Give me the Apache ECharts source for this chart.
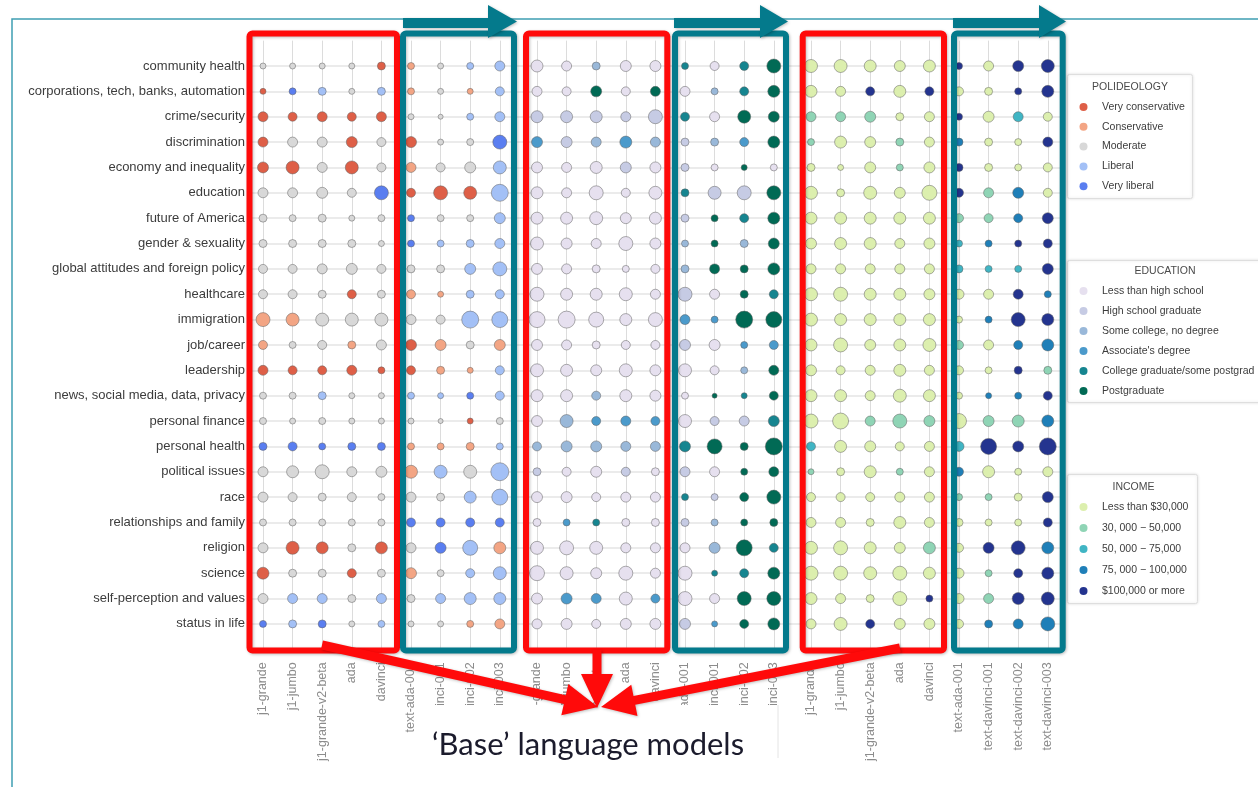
<!DOCTYPE html>
<html>
<head>
<meta charset="utf-8">
<title>Opinion representativeness by topic</title>
<script src="https://cdn.jsdelivr.net/npm/echarts@6/dist/echarts.min.js"></script>
<style>
  html, body { margin: 0; padding: 0; background: #ffffff; }
  #chart { width: 1258px; height: 787px; }
</style>
</head>
<body>
<div id="chart"></div>
<script>
// Topics (rows, top to bottom) and models (columns inside each facet)
const topics = [
  'community health', 'corporations, tech, banks, automation', 'crime/security',
  'discrimination', 'economy and inequality', 'education', 'future of America',
  'gender & sexuality', 'global attitudes and foreign policy', 'healthcare',
  'immigration', 'job/career', 'leadership', 'news, social media, data, privacy',
  'personal finance', 'personal health', 'political issues', 'race',
  'relationships and family', 'religion', 'science', 'self-perception and values',
  'status in life'
];
const models = [
  'j1-grande', 'j1-jumbo', 'j1-grande-v2-beta', 'ada', 'davinci',
  'text-ada-001', 'text-davinci-001', 'text-davinci-002', 'text-davinci-003'
];

// POLIDEOLOGY facet
const ideologyNames = ['Very conservative', 'Conservative', 'Moderate', 'Liberal', 'Very liberal'];
const ideologyColors = ['#de5f47', '#f3a584', '#d8d8d8', '#a3c0f6', '#5a7ef0'];
const ideologyGroup = [
  [2,2,2,2,0, 1,2,3,3], [0,4,3,2,3, 1,2,1,3], [0,0,0,0,0, 2,2,3,3], [0,2,2,0,2, 0,2,2,4],
  [0,0,2,0,2, 1,2,2,3], [2,2,2,2,4, 0,0,0,3], [2,2,2,2,2, 4,2,2,3], [2,2,2,2,2, 4,3,3,3],
  [2,2,2,2,2, 2,2,3,3], [2,2,2,0,2, 1,1,3,3], [1,1,2,2,2, 2,2,3,3], [1,2,2,1,2, 0,1,2,1],
  [0,0,0,0,0, 0,1,1,3], [2,2,3,2,2, 3,3,4,3], [2,2,2,2,2, 2,2,0,2], [4,4,4,4,4, 1,1,1,3],
  [2,2,2,2,2, 1,3,2,3], [2,2,2,2,2, 2,2,3,3], [2,2,2,2,2, 4,4,4,4], [2,0,0,2,0, 2,4,3,1],
  [0,2,2,0,2, 1,2,3,3], [2,3,3,2,3, 2,3,3,3], [4,3,4,2,3, 2,2,1,1]
];
const ideologyWeight = [
  [6,6,6,6,8, 7,6,7,10], [6,7,8,6,8, 7,6,6,9], [10,9,10,9,10, 6,5,7,10], [10,10,10,11,9, 11,6,7,14],
  [11,13,10,13,9, 10,9,11,13], [10,10,11,9,14, 9,14,13,17], [8,7,8,6,7, 7,7,7,11], [8,8,8,8,6, 7,7,8,10],
  [9,9,10,11,9, 8,8,11,14], [9,9,8,9,8, 9,6,8,9], [14,13,13,13,13, 10,9,17,16], [9,7,9,8,10, 11,11,8,11],
  [10,9,9,10,7, 9,8,6,9], [7,7,8,6,6, 7,6,7,9], [7,6,7,6,6, 6,5,6,7], [8,9,7,8,8, 7,7,8,7],
  [10,12,14,10,11, 13,13,13,18], [10,9,8,9,7, 10,8,12,16], [7,7,7,7,7, 9,9,9,9], [10,13,12,8,12, 10,11,15,12],
  [12,8,8,9,8, 11,7,9,13], [10,10,10,8,10, 8,10,12,12], [7,8,8,6,7, 6,6,7,10]
];

// EDUCATION facet
const educationNames = ['Less than high school', 'High school graduate', 'Some college, no degree',
  "Associate's degree", 'College graduate/some postgrad', 'Postgraduate'];
const educationColors = ['#e6e0ef', '#c6cbe4', '#99b8d9', '#4b9acb', '#168590', '#016a55'];
const educationGroup = [
  [0,0,2,0,0, 4,0,4,5], [0,0,5,0,5, 0,2,4,5], [1,1,1,1,1, 4,0,5,5], [3,1,2,3,2, 1,2,3,5],
  [0,0,0,1,0, 1,0,5,0], [0,0,0,0,0, 4,1,1,5], [0,0,0,0,0, 1,5,4,5], [0,0,0,0,0, 2,5,2,5],
  [0,0,0,0,0, 2,5,5,5], [0,0,0,0,0, 1,0,5,4], [0,0,0,0,0, 3,3,5,5], [0,0,0,0,0, 1,0,3,3],
  [0,0,0,0,0, 0,0,2,5], [0,0,2,0,0, 0,5,4,5], [0,2,3,3,3, 0,1,1,4], [2,2,2,2,2, 4,5,5,5],
  [1,0,0,1,0, 1,0,5,5], [0,0,0,0,0, 4,1,5,5], [0,3,4,0,0, 1,2,5,5], [0,0,0,0,0, 0,2,5,4],
  [0,0,0,0,0, 0,4,4,5], [0,3,3,0,3, 0,0,5,5], [0,0,0,0,0, 1,3,5,5]
];
const educationWeight = [
  [12,10,8,11,11, 7,9,9,14], [10,9,11,9,10, 10,7,9,12], [12,12,12,10,14, 9,10,13,11], [11,11,10,12,10, 8,8,9,12],
  [11,10,12,11,11, 8,7,6,7], [12,10,14,9,13, 8,13,14,14], [12,12,13,11,12, 8,7,9,12], [13,11,10,14,11, 7,7,8,11],
  [11,10,8,7,9, 8,10,8,12], [14,12,12,13,10, 14,10,8,9], [16,17,15,12,14, 10,7,17,16], [11,10,8,9,9, 11,11,7,9],
  [13,12,11,13,11, 13,9,7,10], [12,12,9,12,11, 7,5,6,9], [11,13,9,10,9, 13,9,10,11], [9,11,11,10,10, 11,15,8,17],
  [8,9,11,9,8, 10,10,7,10], [11,11,9,10,10, 7,7,9,14], [8,7,7,8,8, 8,7,7,8], [13,14,13,10,10, 10,11,16,9],
  [15,13,11,14,10, 14,6,9,12], [11,11,10,13,9, 14,10,14,14], [10,11,9,11,11, 11,6,9,12]
];

// INCOME facet
const incomeNames = ['Less than $30,000', '30, 000 \u2212 50,000', '50, 000 \u2212 75,000',
  '75, 000 \u2212 100,000', '$100,000 or more'];
const incomeColors = ['#dcefae', '#8fd4b5', '#40b5c4', '#1f7fb8', '#24348f'];
const incomeGroup = [
  [0,0,0,0,0, 4,0,4,4], [0,0,4,0,4, 0,0,4,4], [1,1,1,0,0, 4,0,2,0], [1,0,0,1,0, 3,0,0,4],
  [0,0,0,1,0, 4,0,0,0], [0,0,0,0,0, 4,1,3,0], [0,0,0,0,0, 1,1,3,4], [0,0,0,0,0, 2,3,4,4],
  [0,0,0,0,0, 2,2,2,4], [0,0,0,0,0, 0,0,4,3], [0,0,0,0,0, 0,3,4,4], [0,0,0,0,0, 1,0,3,3],
  [0,0,0,0,0, 0,0,4,1], [0,0,0,0,0, 0,3,3,4], [0,0,1,1,1, 0,1,1,3], [2,0,0,0,0, 2,4,4,4],
  [1,0,0,1,0, 3,0,0,0], [0,0,0,0,0, 1,1,0,4], [0,0,0,0,0, 0,0,0,4], [0,0,0,0,1, 0,4,4,3],
  [0,0,0,0,0, 0,1,4,4], [0,0,0,0,4, 0,1,4,4], [0,0,4,0,0, 0,3,3,3]
];
const incomeWeight = [
  [13,13,12,11,12, 7,10,11,13], [12,10,9,12,9, 9,8,7,12], [10,10,11,8,10, 7,11,10,9], [7,12,11,8,10, 8,8,7,10],
  [8,6,11,7,11, 8,8,7,9], [13,8,13,11,15, 9,10,11,9], [12,12,12,12,12, 9,9,9,11], [11,12,12,10,11, 7,7,7,9],
  [10,10,10,10,10, 8,7,7,11], [13,14,12,12,11, 10,10,10,7], [13,12,12,12,12, 7,7,14,12], [12,14,11,12,13, 9,10,9,12],
  [11,9,10,12,10, 9,7,8,8], [12,12,10,13,12, 7,6,7,9], [14,16,10,14,11, 15,11,12,12], [9,12,11,9,10, 10,16,11,17],
  [6,8,12,7,10, 9,12,7,10], [9,9,9,10,10, 7,7,8,11], [10,10,8,12,10, 8,7,7,9], [13,14,12,11,12, 9,11,14,12],
  [14,14,13,14,12, 10,7,9,12], [12,10,8,14,7, 10,10,12,13], [10,13,9,11,11, 9,8,10,14]
];

const facets = [
  { title: 'POLIDEOLOGY', names: ideologyNames, colors: ideologyColors, group: ideologyGroup, weight: ideologyWeight },
  { title: 'EDUCATION', names: educationNames, colors: educationColors, group: educationGroup, weight: educationWeight },
  { title: 'INCOME', names: incomeNames, colors: incomeColors, group: incomeGroup, weight: incomeWeight }
];

// ---- layout ----
const rowStep = 25.36;
const plotTop = 66 - rowStep;                 // y-axis spans -1 .. 23
const plotHeight = rowStep * 24;
const colStep = 29.6;
const facetLeft = [263, 537, 811];
const facetWidth = colStep * (models.length - 1);
const LABEL_FONT = '"Liberation Sans", Arial, sans-serif';

const grids = [{ left: 250, top: plotTop, width: 813, height: plotHeight }];
const xAxes = [{ gridIndex: 0, type: 'value', min: 0, max: 1, show: false }];
const yAxes = [{
  gridIndex: 0, type: 'value', min: -1, max: 23, interval: 1, inverse: true,
  axisLine: { show: false }, axisTick: { show: false },
  axisLabel: {
    margin: 5, fontSize: 13, color: '#3c3c3c', fontFamily: LABEL_FONT,
    formatter: v => topics[v] || ''
  },
  splitLine: { show: true, showMinLine: false, showMaxLine: false, lineStyle: { color: '#ebebeb', width: 2 } }
}];
const series = [];

facets.forEach((f, i) => {
  grids.push({ left: facetLeft[i], top: plotTop, width: facetWidth, height: plotHeight });
  xAxes.push({
    gridIndex: i + 1, type: 'category', data: models, boundaryGap: false,
    axisLine: { show: false }, axisTick: { show: false },
    axisLabel: { interval: 0, rotate: 90, margin: 13, fontSize: 12.5, color: '#8c8c8c', fontFamily: LABEL_FONT },
    splitLine: { show: true, lineStyle: { color: '#dcdcdc', width: 1 } }
  });
  yAxes.push({ gridIndex: i + 1, type: 'value', min: -1, max: 23, inverse: true, show: false });
  const data = [];
  f.group.forEach((row, r) => {
    row.forEach((g, c) => {
      data.push({
        value: [c, r, f.weight[r][c], g],
        itemStyle: { color: f.colors[g] }
      });
    });
  });
  series.push({
    type: 'scatter', xAxisIndex: i + 1, yAxisIndex: i + 1,
    symbol: 'circle', symbolSize: v => v[2],
    itemStyle: { borderColor: 'rgba(95,95,95,0.5)', borderWidth: 1, opacity: 1 },
    emphasis: { disabled: true },
    data
  });
});

// ---- annotations ----
const RED = '#ff0a0a';
const TEAL = '#047a8c';
const boxTop = 33.5, boxBottom = 650.5;
const redBoxes = [[249.5, 397], [526, 667.3], [802.7, 944]];
const tealBoxes = [[403, 514], [675, 786], [954, 1062.7]];
const tealArrows = [[403, 488, 517], [674, 760, 788], [953, 1039, 1066]];

function arrowPolygon(x0, y0, x1, y1, shaftW, headL, headW) {
  const dx = x1 - x0, dy = y1 - y0, len = Math.hypot(dx, dy);
  const ux = dx / len, uy = dy / len, nx = -uy, ny = ux;
  const bx = x1 - ux * headL, by = y1 - uy * headL;
  const s = shaftW / 2;
  return [
    [x0 + nx * s, y0 + ny * s], [bx + nx * s, by + ny * s], [bx + nx * headW, by + ny * headW],
    [x1, y1],
    [bx - nx * headW, by - ny * headW], [bx - nx * s, by - ny * s], [x0 - nx * s, y0 - ny * s]
  ];
}

const elements = [];
// outer frame
elements.push({ type: 'polyline', z: 50, shape: { points: [[12, 787], [12, 19], [1258, 19]] },
  style: { stroke: '#3f9fb2', lineWidth: 1.5, fill: null } });

redBoxes.forEach(([a, b]) => elements.push({
  type: 'rect', z: 100,
  shape: { x: a, y: boxTop, width: b - a, height: boxBottom - boxTop, r: 3 },
  style: { fill: null, stroke: RED, lineWidth: 6, shadowBlur: 3, shadowColor: 'rgba(0,0,0,0.25)', shadowOffsetX: 1, shadowOffsetY: 1 }
}));
tealBoxes.forEach(([a, b]) => elements.push({
  type: 'rect', z: 100,
  shape: { x: a, y: boxTop, width: b - a, height: boxBottom - boxTop, r: 3 },
  style: { fill: null, stroke: TEAL, lineWidth: 6, shadowBlur: 3, shadowColor: 'rgba(0,0,0,0.25)', shadowOffsetX: 1, shadowOffsetY: 1 }
}));
tealArrows.forEach(([x0, xb, xt]) => elements.push({
  type: 'polygon', z: 101,
  shape: { points: [[x0, 18], [xb, 18], [xb, 5], [xt, 21.5], [xb, 38], [xb, 28], [x0, 28]] },
  style: { fill: TEAL, shadowBlur: 3, shadowColor: 'rgba(0,0,0,0.25)', shadowOffsetX: 1, shadowOffsetY: 1 }
}));

// caption panel (white) sitting over the lower part of the model labels
elements.push({ type: 'rect', z: 101, shape: { x: 426, y: 705, width: 352, height: 62 },
  style: { fill: '#ffffff' } });
elements.push({ type: 'line', z: 101, shape: { x1: 778, y1: 705, x2: 778, y2: 758 },
  style: { stroke: '#e4e4e4', lineWidth: 1 } });

// red arrows converging on the caption
[[322, 645, 598, 707], [597, 650, 597, 708], [900, 648, 601, 707]].forEach(([x0, y0, x1, y1]) => elements.push({
  type: 'polygon', z: 102,
  shape: { points: arrowPolygon(x0, y0, x1, y1, 9, 34, 16) },
  style: { fill: RED, shadowBlur: 3, shadowColor: 'rgba(0,0,0,0.25)', shadowOffsetX: 1, shadowOffsetY: 1 }
}));
elements.push({
  type: 'text', z: 103, x: 588, y: 745,
  style: { text: '\u2018Base\u2019 language models', font: '31px Lato, "Open Sans", sans-serif',
    fill: '#1b1b2c', align: 'center', verticalAlign: 'middle' }
});

// legend panels
const legendBoxes = [
  { x: 1067.5, y: 74.5, w: 125, h: 124, titleX: 1130, titleY: 87, firstY: 107, step: 19.8 },
  { x: 1067.5, y: 260.5, w: 220, h: 142, titleX: 1165, titleY: 271, firstY: 291, step: 20 },
  { x: 1067.5, y: 474.5, w: 130, h: 129, titleX: 1133.5, titleY: 487, firstY: 507, step: 21 }
];
facets.forEach((f, i) => {
  const L = legendBoxes[i];
  elements.push({ type: 'rect', z: 90, shape: { x: L.x, y: L.y, width: L.w, height: L.h, r: 2 },
    style: { fill: '#ffffff', stroke: '#dedede', lineWidth: 1, shadowBlur: 3, shadowColor: 'rgba(0,0,0,0.12)' } });
  elements.push({ type: 'text', z: 91, x: L.titleX, y: L.titleY,
    style: { text: f.title, font: '10.5px "Liberation Sans", Arial, sans-serif', fill: '#4a4a4a', align: 'center', verticalAlign: 'middle' } });
  f.names.forEach((name, k) => {
    const cy = L.firstY + k * L.step;
    elements.push({ type: 'circle', z: 91, shape: { cx: 1083.5, cy, r: 4 }, style: { fill: f.colors[k] } });
    elements.push({ type: 'text', z: 91, x: 1102, y: cy,
      style: { text: name, font: '10.5px "Liberation Sans", Arial, sans-serif', fill: '#3c3c3c', align: 'left', verticalAlign: 'middle' } });
  });
});

const chart = echarts.init(document.getElementById('chart'), null, { renderer: 'canvas' });
chart.setOption({
  animation: false,
  backgroundColor: '#ffffff',
  grid: grids,
  xAxis: xAxes,
  yAxis: yAxes,
  series,
  graphic: { elements }
});
</script>
</body>
</html>
